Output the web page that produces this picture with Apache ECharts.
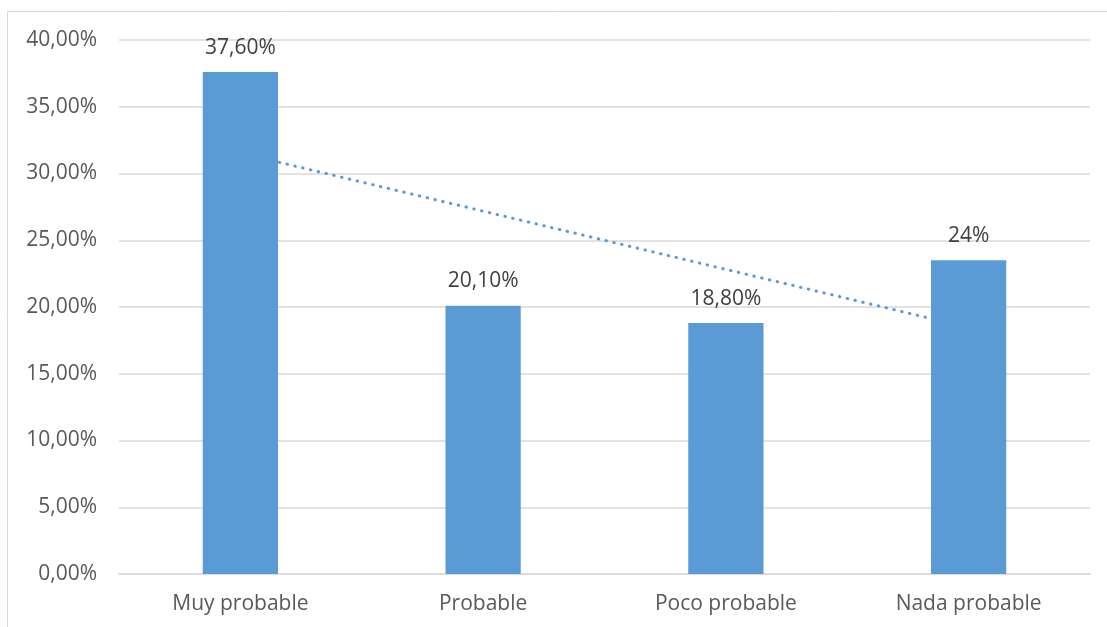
<!DOCTYPE html>
<html><head><meta charset="utf-8">
<script src="https://cdn.jsdelivr.net/npm/echarts@6/dist/echarts.min.js"></script>
<style>html,body{margin:0;padding:0;background:#fff}#c{width:1107px;height:627px}</style>
</head><body><div id="c"></div>
<script>
const categories = ['Muy probable', 'Probable', 'Poco probable', 'Nada probable'];
const values = [37.6, 20.1, 18.8, 23.5];
const valueLabels = ['37,60%', '20,10%', '18,80%', '24%'];
const trendValues = [31.54, 27.18, 22.82, 18.46];
const yTicks = [0, 5, 10, 15, 20, 25, 30, 35, 40];

const FONT = '"Open Sans", Lato, sans-serif';
const chart = echarts.init(document.getElementById('c'));
chart.setOption({
  animation: false,
  graphic: [{
    type: 'rect', shape: {x: 7.5, y: 11.5, width: 1120, height: 640},
    style: {fill: 'none', stroke: '#d9d9d9', lineWidth: 1}, silent: true, z: -10
  }],
  grid: {left: 119, right: 17, top: 40, bottom: 53},
  xAxis: {
    type: 'category', data: categories,
    axisLine: {lineStyle: {color: '#d9d9d9', width: 1.5}},
    axisTick: {show: false},
    axisLabel: {color: '#595959', fontSize: 21, fontFamily: FONT, margin: 20}
  },
  yAxis: {
    type: 'value', min: yTicks[0], max: yTicks[yTicks.length - 1], interval: 5,
    axisLine: {show: false}, axisTick: {show: false},
    splitLine: {lineStyle: {color: '#d9d9d9', width: 1.5}},
    axisLabel: {color: '#595959', fontSize: 21, fontFamily: FONT, margin: 22,
      formatter: v => v.toFixed(2).replace('.', ',') + '%'}
  },
  series: [{
    type: 'line', data: trendValues, symbol: 'none', z: 1,
    lineStyle: {color: '#5B9BD5', width: 3, type: [0.5, 7.5], cap: 'round'}
  }, {
    type: 'bar', data: values, barWidth: '31%', z: 2,
    itemStyle: {color: '#5B9BD5'},
    label: {show: true, position: 'top', distance: 14, color: '#404040',
      fontSize: 21, fontFamily: FONT,
      formatter: p => valueLabels[p.dataIndex]}
  }]
});
</script></body></html>
